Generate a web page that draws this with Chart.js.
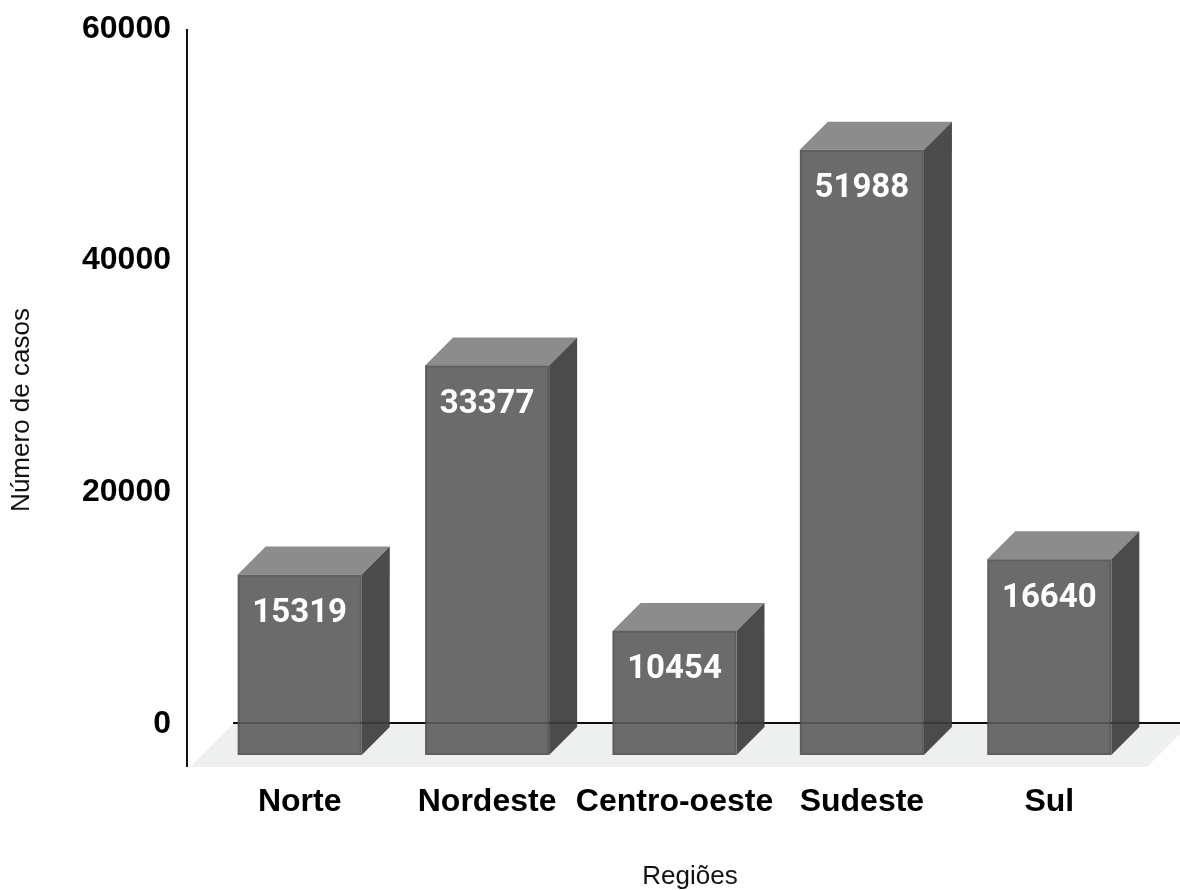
<!DOCTYPE html>
<html lang="pt-BR">
<head>
<meta charset="utf-8">
<title>Número de casos por região</title>
<script src="https://cdn.jsdelivr.net/npm/chart.js@4.4.1/dist/chart.umd.min.js"></script>
<style>
  html, body { margin: 0; padding: 0; background: #fff; }
  #wrap { width: 1180px; height: 890px; }
</style>
</head>
<body>
<div id="wrap"><canvas id="chart" width="1180" height="890"></canvas></div>
<script>
// ---- data ----
const regioes = ['Norte', 'Nordeste', 'Centro-oeste', 'Sudeste', 'Sul'];
const casos = [15319, 33377, 10454, 51988, 16640];
const yTicks = [0, 20000, 40000, 60000];

// ---- 3D look ----
const DEPTH = 28;        // box depth (px, drawn at 45 degrees)
const SINK = 3;          // boxes sit slightly below the zero line
const FLOOR_DEPTH = 43;  // floor slab depth
const COLORS = {
    front: '#6b6b6b',
    top: '#8c8c8c',
    side: '#4b4b4b',
    edge: 'rgba(0,0,0,0.12)',
    floor: '#eef0ef',
    axis: '#111111'
};
const FONT_FAMILY = '"Liberation Sans", Arial, sans-serif';

function poly(ctx, pts, fill) {
    ctx.beginPath();
    ctx.moveTo(pts[0][0], pts[0][1]);
    for (let i = 1; i < pts.length; i++) ctx.lineTo(pts[i][0], pts[i][1]);
    ctx.closePath();
    ctx.fillStyle = fill;
    ctx.fill();
}

const box3d = {
    id: 'box3d',
    beforeDatasetsDraw(chart) {
        const { ctx, chartArea, scales } = chart;
        const zeroY = scales.y.getPixelForValue(0);
        const axisX = chartArea.left - 19;
        const floorL = axisX + 3;
        const floorR = chartArea.right + 4;

        ctx.save();
        // floor slab
        poly(ctx, [
            [floorL, zeroY + FLOOR_DEPTH],
            [floorL + FLOOR_DEPTH, zeroY],
            [floorR + FLOOR_DEPTH, zeroY],
            [floorR, zeroY + FLOOR_DEPTH]
        ], COLORS.floor);

        // zero line along the back of the floor
        ctx.strokeStyle = COLORS.axis;
        ctx.lineWidth = 2;
        ctx.beginPath();
        ctx.moveTo(floorL + FLOOR_DEPTH, zeroY - 1);
        ctx.lineTo(chart.width, zeroY - 1);
        ctx.stroke();
        ctx.restore();
    },
    afterDatasetsDraw(chart) {
        const { ctx, chartArea, scales } = chart;
        const meta = chart.getDatasetMeta(0);
        const zeroY = scales.y.getPixelForValue(0);
        const lineStart = chartArea.left - 16 + FLOOR_DEPTH;
        const D = DEPTH;

        ctx.save();
        meta.data.forEach((bar, i) => {
            const { x, y, base, width } = bar.getProps(['x', 'y', 'base', 'width'], true);
            const x0 = x - width / 2;
            const x1 = x + width / 2;
            const y0 = y + D;
            const y1 = base + SINK + D;

            // top face
            poly(ctx, [[x0, y0], [x0 + D, y0 - D], [x1 + D, y0 - D], [x1, y0]], COLORS.top);
            // side face
            poly(ctx, [[x1, y0], [x1 + D, y0 - D], [x1 + D, y1 - D], [x1, y1]], COLORS.side);
            // front face
            ctx.fillStyle = COLORS.front;
            ctx.fillRect(x0, y0, x1 - x0, y1 - y0);
            ctx.strokeStyle = COLORS.edge;
            ctx.lineWidth = 2;
            ctx.strokeRect(x0 + 1, y0 + 1, x1 - x0 - 2, y1 - y0 - 2);

            // value label
            ctx.fillStyle = '#ffffff';
            ctx.font = 'bold 33px Roboto, "Open Sans", sans-serif';
            ctx.textAlign = 'center';
            ctx.textBaseline = 'middle';
            ctx.fillText(String(casos[i]), x, y0 + 39);
        });

        // zero line shows faintly through the boxes
        ctx.strokeStyle = 'rgba(0,0,0,0.22)';
        ctx.lineWidth = 2;
        ctx.beginPath();
        ctx.moveTo(lineStart, zeroY - 1);
        ctx.lineTo(chart.width, zeroY - 1);
        ctx.stroke();
        ctx.restore();
    },
    afterDraw(chart) {
        const { ctx, chartArea, scales } = chart;
        const zeroY = scales.y.getPixelForValue(0);
        const axisX = chartArea.left - 19;
        const floorL = axisX + 3;
        const floorR = chartArea.right + 4;

        ctx.save();
        // vertical axis line
        ctx.strokeStyle = COLORS.axis;
        ctx.lineWidth = 2;
        ctx.beginPath();
        ctx.moveTo(axisX, chartArea.top);
        ctx.lineTo(axisX, zeroY + FLOOR_DEPTH);
        ctx.stroke();

        // axis titles
        ctx.fillStyle = '#111111';
        ctx.font = '26px ' + FONT_FAMILY;
        ctx.textAlign = 'center';
        ctx.textBaseline = 'middle';
        ctx.fillText('Regiões', (floorL + floorR + FLOOR_DEPTH) / 2, chart.height - 13);

        ctx.translate(22, (chartArea.top + zeroY + FLOOR_DEPTH) / 2 + 12);
        ctx.rotate(-Math.PI / 2);
        ctx.fillText('Número de casos', 0, 0);
        ctx.restore();
    }
};

new Chart(document.getElementById('chart'), {
    type: 'bar',
    data: {
        labels: regioes,
        datasets: [{
            label: 'Número de casos',
            data: casos,
            backgroundColor: 'rgba(0,0,0,0)',
            borderWidth: 0,
            categoryPercentage: 1,
            barPercentage: 0.662
        }]
    },
    options: {
        responsive: false,
        animation: false,
        devicePixelRatio: 1,
        layout: {
            padding: { top: 29, right: 37, bottom: 0, left: 0 }
        },
        plugins: {
            legend: { display: false },
            tooltip: { enabled: false }
        },
        scales: {
            x: {
                grid: { display: false, drawTicks: false },
                border: { display: false },
                ticks: {
                    color: '#000000',
                    font: { family: FONT_FAMILY, size: 32, weight: 'bold' },
                    padding: 59,
                    maxRotation: 0,
                    minRotation: 0,
                    autoSkip: false
                },
                afterFit(scale) {
                    scale.height = 166;
                    scale.paddingLeft = 0;
                    scale.paddingRight = 0;
                }
            },
            y: {
                min: 0,
                max: 60000,
                grid: { display: false, drawTicks: false },
                border: { display: false },
                ticks: {
                    color: '#000000',
                    font: { family: FONT_FAMILY, size: 32, weight: 'bold' },
                    padding: 35,
                    stepSize: 20000,
                    callback: v => String(v)
                },
                afterBuildTicks(scale) {
                    scale.ticks = yTicks.map(v => ({ value: v }));
                },
                afterFit(scale) {
                    scale.width = 206;
                    scale.paddingTop = 0;
                    scale.paddingBottom = 0;
                }
            }
        }
    },
    plugins: [box3d]
});
</script>
</body>
</html>
